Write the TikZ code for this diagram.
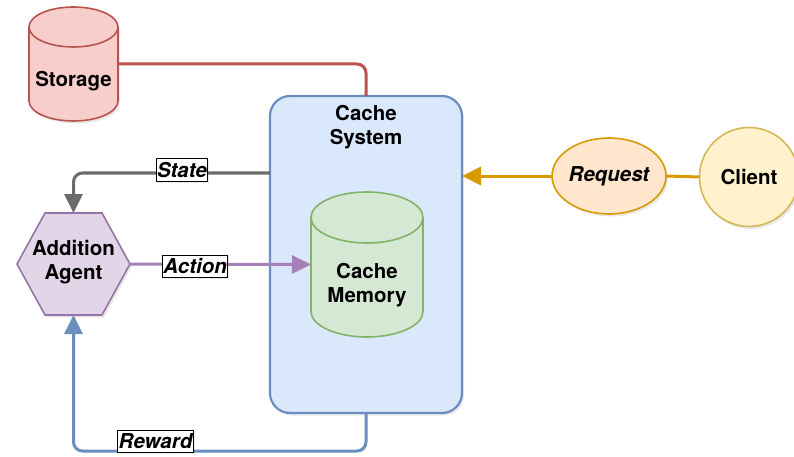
\documentclass[tikz,border=0pt]{standalone}
\usepackage{fontspec}
\setmainfont{TeX Gyre Heros}
\usetikzlibrary{arrows.meta,shadows,calc,shapes.geometric}

\definecolor{redfill}{HTML}{F8CECC}\definecolor{redline}{HTML}{B85450}
\definecolor{bluefill}{HTML}{DAE8FC}\definecolor{blueline}{HTML}{6C8EBF}
\definecolor{greenfill}{HTML}{D5E8D4}\definecolor{greenline}{HTML}{82B366}
\definecolor{purplefill}{HTML}{E1D5E7}\definecolor{purpleline}{HTML}{9673A6}
\definecolor{actionline}{HTML}{A680B8}
\definecolor{orangefill}{HTML}{FFE6CC}\definecolor{orangeline}{HTML}{D79B00}
\definecolor{yellowfill}{HTML}{FFF2CC}\definecolor{yellowline}{HTML}{D6B656}
\definecolor{stategray}{HTML}{6B6B6B}

\tikzset{
  txt/.style={font=\fontsize{20.5}{24}\selectfont\bfseries, align=center, text=black},
  edgelabel/.style={font=\fontsize{20.5}{24}\selectfont\bfseries\itshape, draw=black, text=black,
    line width=0.8pt, rounded corners=0pt, fill=white, inner xsep=1pt, inner ysep=3.5pt,
    drop shadow={opacity=0.15, shadow xshift=1.5pt, shadow yshift=-1.5pt}},
  sshadow/.style={drop shadow={opacity=0.18, shadow xshift=2pt, shadow yshift=-2.5pt}},
  shapeline/.style={line width=1.6pt},
  conn/.style={line width=3pt, rounded corners=9pt},
  tip/.style={-{Triangle[length=19pt,width=18pt]}},
  ghost/.style={inner sep=0pt, outer sep=0pt}
}

\begin{document}
\begin{tikzpicture}[x=1pt,y=1pt]
\useasboundingbox (0,0) rectangle (794,-457);

% --- Storage cylinder ---
\path[fill=redfill, draw=redline, shapeline, sshadow]
  (29,-27) -- (29,-101) arc[start angle=180,end angle=360,x radius=44.5,y radius=20]
  -- (118,-27) arc[start angle=0,end angle=180,x radius=44.5,y radius=20] -- cycle;
\draw[redline, shapeline] (29,-27) arc[start angle=180,end angle=360,x radius=44.5,y radius=20];
\node[ghost, minimum width=89, minimum height=114] (storage) at (73.5,-64) {};
\node[txt] (storagetext) at (73.5,-81) {Storage};

% --- Cache system container ---
\node[ghost, draw=blueline, fill=bluefill, line width=2.2pt, rounded corners=20pt,
      minimum width=192, minimum height=317, sshadow] (cachesys) at (366,-254.5) {};
\node[txt] (cachesystext) at (366,-127) {Cache\\System};

% --- Cache memory cylinder ---
\path[fill=greenfill, draw=greenline, shapeline]
  (311,-217.5) -- (311,-311.5) arc[start angle=180,end angle=360,x radius=56,y radius=25.5]
  -- (423,-217.5) arc[start angle=0,end angle=180,x radius=56,y radius=25.5] -- cycle;
\draw[greenline, shapeline] (311,-217.5) arc[start angle=180,end angle=360,x radius=56,y radius=25.5];
\node[ghost, minimum width=112, minimum height=145] (cachemem) at (367,-264.5) {};
\node[txt] (cachememtext) at (367,-285) {Cache\\Memory};

% --- Addition agent hexagon ---
\path[fill=purplefill, draw=purpleline, shapeline, sshadow]
  (17,-264) -- (45,-213) -- (102,-213) -- (130,-264) -- (102,-315) -- (45,-315) -- cycle;
\node[ghost, minimum width=113, minimum height=102] (agent) at (73.5,-264) {};
\node[txt] (agenttext) at (73.5,-262) {Addition\\Agent};

% --- Request and client ---
\node[ghost, ellipse, draw=orangeline, fill=orangefill, shapeline, minimum width=114, minimum height=76,
      sshadow] (request) at (609,-176) {};
\node[txt, font=\fontsize{20.5}{24}\selectfont\bfseries\itshape] at (request) {Request};
\node[ghost, circle, draw=yellowline, fill=yellowfill, shapeline, minimum size=99, sshadow]
  (client) at (749,-177) {};
\node[txt] at (client) {Client};

% --- Connectors ---
\draw[conn, redline] (storage.east) -| (cachesys.north);

\draw[conn, stategray, tip] ([yshift=81.5pt]cachesys.west) -| (agent.north)
  node[pos=0.224, yshift=3pt, edgelabel] {State};

\draw[conn, actionline, tip, rounded corners=0pt] (agent.east) -- (cachemem.west)
  node[pos=0.36, yshift=-2pt, edgelabel] {Action};

\draw[conn, blueline, tip] (cachesys.south) -- ++(0,-38) coordinate (rewardcorner)
  -| (agent.south);
\node[edgelabel] (rewardlabel) at (155.5,-441) {Reward};

\draw[conn, orangeline, rounded corners=0pt] (client.west) -- (request.east);
\draw[conn, orangeline, tip, rounded corners=0pt] (request.west) -- (request.west -| cachesys.east);
\end{tikzpicture}
\end{document}
